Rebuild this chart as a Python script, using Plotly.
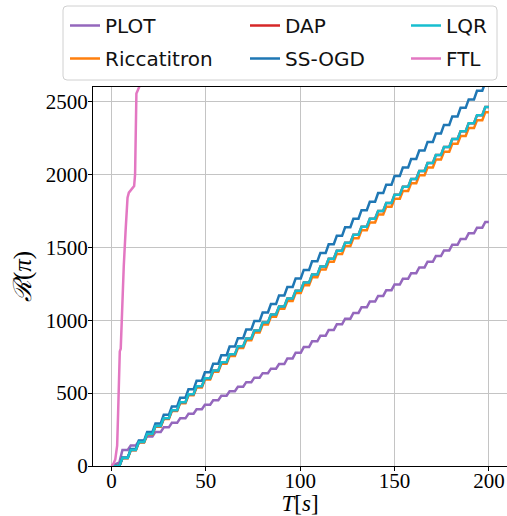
import plotly.graph_objects as go

# ---------------- data ----------------
step_times = [5.0, 9.4, 13.7, 18.1, 22.5, 26.9, 31.2, 35.6, 40.0, 44.3,
              48.7, 53.1, 57.4, 61.8, 66.2, 70.6, 74.9, 79.3, 83.7, 88.0,
              92.4, 96.8, 101.1, 105.5, 109.9, 114.3, 118.6, 123.0, 127.4, 131.7,
              136.1, 140.5, 144.8, 149.2, 153.6, 158.0, 162.3, 166.7, 171.1, 175.4,
              179.8, 184.2, 188.5, 192.9, 197.3]
t_end = 200

plot_start = 25
plot_levels = [110, 141, 172, 203, 234, 265, 296, 327, 358, 389,
               420, 451, 482, 513, 544, 575, 606, 637, 668, 699,
               738, 777, 816, 855, 894, 933, 972, 1011, 1050, 1089,
               1128, 1167, 1206, 1245, 1284, 1323, 1362, 1401, 1440, 1479,
               1518, 1557, 1596, 1635, 1674]

ricc_levels = [54, 108, 162, 216, 270, 323, 377, 431, 485, 539,
               593, 647, 701, 755, 809, 862, 916, 970, 1024, 1078,
               1132, 1186, 1240, 1294, 1348, 1401, 1455, 1509, 1563, 1617,
               1671, 1725, 1779, 1833, 1887, 1940, 1994, 2048, 2102, 2156,
               2210, 2264, 2318, 2372, 2426]

lqr_levels = [55, 109, 164, 219, 274, 328, 383, 438, 492, 547,
              602, 656, 711, 766, 821, 875, 930, 985, 1039, 1094,
              1149, 1203, 1258, 1313, 1368, 1422, 1477, 1532, 1586, 1641,
              1696, 1750, 1805, 1860, 1915, 1969, 2024, 2079, 2133, 2188,
              2243, 2297, 2352, 2407, 2462]

dap_levels = list(lqr_levels)

ssogd_levels = [58, 117, 175, 234, 292, 351, 409, 468, 526, 585,
                643, 702, 760, 819, 877, 936, 994, 1053, 1111, 1170,
                1228, 1287, 1345, 1404, 1462, 1521, 1579, 1638, 1696, 1755,
                1813, 1872, 1930, 1989, 2047, 2106, 2164, 2223, 2281, 2340,
                2398, 2457, 2515, 2574, 2632]

ftl_t = [0, 1, 2, 3, 3.5, 4, 4.4, 4.9, 5.5, 6.5, 7.5, 8.5, 9.2, 10.5, 11.4, 12.0, 12.5, 13.2, 14.0, 15.0, 16.0]
ftl_y = [0, 15, 45, 140, 360, 560, 786, 805, 1060, 1370, 1620, 1840, 1875, 1897, 1908, 1920, 2000, 2555, 2580, 2610, 2660]

x_ticks = [0, 50, 100, 150, 200]
y_ticks = [0, 500, 1000, 1500, 2000, 2500]

# ---------------- helpers ----------------
RISE = 0.8  # half-width of each rising edge (style)


def staircase(levels, start=0):
    xs, ys = [0], [0]
    prev = start
    for t, lv in zip(step_times, levels):
        xs += [t - RISE, t + RISE]
        ys += [prev, lv]
        prev = lv
    xs.append(t_end)
    ys.append(prev)
    return xs, ys


W, H = 507, 516
ML, MR, MT, MB = 93, 0, 87, 50
PW, PH = W - ML - MR, H - MT - MB


def px_x(px):
    return (px - ML) / PW


def px_y(py):
    return (H - MB - py) / PH


fig = go.Figure()

series = [
    ("PLOT", plot_levels, plot_start, "#9467bd", "legend"),
    ("Riccatitron", ricc_levels, 0, "#ff7f0e", "legend"),
    ("DAP", dap_levels, 0, "#d62728", "legend2"),
    ("SS-OGD", ssogd_levels, 0, "#1f77b4", "legend2"),
    ("LQR", lqr_levels, 0, "#17becf", "legend3"),
]
for name, lv, st, col, leg in series:
    xs, ys = staircase(lv, st)
    fig.add_trace(go.Scatter(x=xs, y=ys, mode="lines", name=name,
                             line=dict(color=col, width=2.5), legend=leg,
                             legendgroup=name))

fig.add_trace(go.Scatter(x=ftl_t, y=ftl_y, mode="lines", name="FTL",
                         line=dict(color="#e377c2", width=2.5), legend="legend3",
                         legendgroup="FTL"))

grid = "#c4c4c4"
tickfont = dict(family="Liberation Serif", size=21, color="black")

leg_common = dict(bgcolor="rgba(0,0,0,0)", borderwidth=0,
                  font=dict(family="DejaVu Sans", size=20, color="#111"),
                  xanchor="left", yanchor="top", tracegroupgap=4,
                  orientation="v")

# rounded legend frame
bx0, bx1, by0, by1 = 63, 497, 6, 80
r = 4
path = (f"M {px_x(bx0 + r)},{px_y(by0)} L {px_x(bx1 - r)},{px_y(by0)} "
        f"Q {px_x(bx1)},{px_y(by0)} {px_x(bx1)},{px_y(by0 + r)} "
        f"L {px_x(bx1)},{px_y(by1 - r)} "
        f"Q {px_x(bx1)},{px_y(by1)} {px_x(bx1 - r)},{px_y(by1)} "
        f"L {px_x(bx0 + r)},{px_y(by1)} "
        f"Q {px_x(bx0)},{px_y(by1)} {px_x(bx0)},{px_y(by1 - r)} "
        f"L {px_x(bx0)},{px_y(by0 + r)} "
        f"Q {px_x(bx0)},{px_y(by0)} {px_x(bx0 + r)},{px_y(by0)} Z")

fig.update_layout(
    width=W, height=H,
    margin=dict(l=ML, r=MR, t=MT, b=MB, pad=0),
    paper_bgcolor="white", plot_bgcolor="white",
    showlegend=True,
    legend=dict(x=px_x(65), y=px_y(6), **leg_common),
    legend2=dict(x=px_x(245), y=px_y(6), **leg_common),
    legend3=dict(x=px_x(406), y=px_y(6), **leg_common),
    shapes=[dict(type="path", path=path, xref="paper", yref="paper",
                 line=dict(color="#d0d0d0", width=1), fillcolor="white",
                 layer="below")],
    xaxis=dict(range=[-9.8, 209.6], tickvals=x_ticks, ticktext=[str(v) for v in x_ticks],
               showline=True, linecolor="black", linewidth=1, mirror=True,
               ticks="outside", ticklen=4, tickcolor="black", tickwidth=1,
               tickfont=tickfont, showgrid=True, gridcolor=grid, gridwidth=1,
               zeroline=False, automargin=False, ticklabelstandoff=-8,
               title=dict(text="<i>T</i>[<i>s</i>]",
                          font=dict(family="Liberation Serif", size=23, color="black"),
                          standoff=14)),
    yaxis=dict(range=[0, 2600], tickvals=y_ticks, ticktext=[str(v) for v in y_ticks],
               showline=True, linecolor="black", linewidth=1,
               ticks="outside", ticklen=4, tickcolor="black", tickwidth=1,
               tickfont=tickfont, showgrid=True, gridcolor=grid, gridwidth=1,
               zeroline=False, automargin=False, ticklabelstandoff=-4,
               title=dict(text="<i>ℛ</i>(<i>π</i>)",
                          font=dict(family="Liberation Serif", size=25, color="black"),
                          standoff=7)),
)

fig.write_html("out.html", config={"displayModeBar": False},
               post_script="document.body.style.margin='0';")
